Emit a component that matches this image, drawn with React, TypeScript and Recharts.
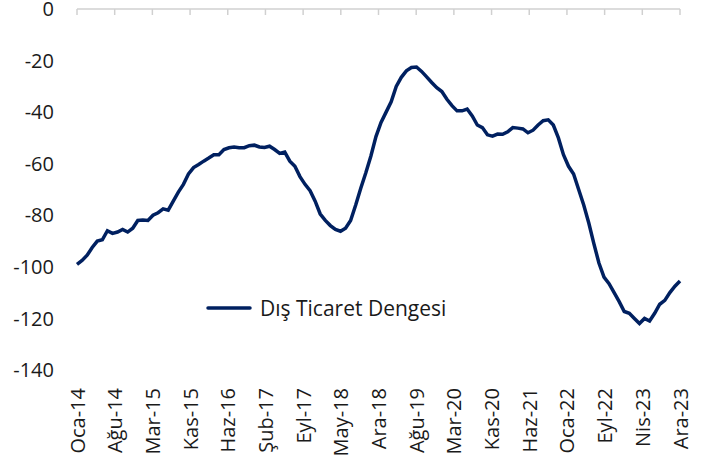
import { LineChart, Line, XAxis, YAxis, Legend } from 'recharts'

const MONTH_ABBR = ['Oca', 'Şub', 'Mar', 'Nis', 'May', 'Haz', 'Tem', 'Ağu', 'Eyl', 'Eki', 'Kas', 'Ara']

const TICK_LABELS = [
  'Oca-14', 'Ağu-14', 'Mar-15', 'Kas-15', 'Haz-16', 'Şub-17', 'Eyl-17', 'May-18', 'Ara-18',
  'Ağu-19', 'Mar-20', 'Kas-20', 'Haz-21', 'Oca-22', 'Eyl-22', 'Nis-23', 'Ara-23',
]

const Y_TICKS = [0, -20, -40, -60, -80, -100, -120, -140]

// Oca-14 .. Ara-23, monthly
const BALANCE = [
  -99, -97.5, -95.5, -92.5, -90, -89.5, -86, -87, -86.5, -85.5, -86.5, -85,
  -82, -81.8, -82, -80, -79, -77.5, -78, -74.5, -71, -68, -64, -61.5,
  -60.3, -59, -57.8, -56.5, -56.5, -54.5, -53.8, -53.5, -53.8, -53.8, -53, -52.8,
  -53.5, -53.7, -53.2, -54.5, -56, -55.5, -59, -61, -65, -68, -70.5, -74.5,
  -79.5, -82, -84, -85.5, -86.2, -85, -82, -76, -69.5, -63.5, -57, -49.5,
  -44, -40, -36, -30, -26.5, -24, -22.7, -22.5, -24.2, -26.3, -28.5, -30.5,
  -32, -35, -37.5, -39.5, -39.5, -38.8, -41.5, -45, -46, -48.8, -49.3, -48.5,
  -48.6, -47.6, -46, -46.2, -46.5, -48, -47, -45, -43.3, -43, -45, -50,
  -56.5, -61, -64, -70, -76, -83, -91, -98.5, -104, -106.5, -110, -113.5,
  -117.3, -118, -120, -122, -120, -121, -118, -114.5, -113, -110, -107.5, -105.5,
]

const data = BALANCE.map((v, i) => ({
  idx: i,
  month: `${MONTH_ABBR[i % 12]}-${14 + Math.floor(i / 12)}`,
  value: v,
}))

const LAST = BALANCE.length - 1
const xTicks = TICK_LABELS.map((_, k) => (k * LAST) / (TICK_LABELS.length - 1))

const FONT = '"Open Sans", "Noto Sans", sans-serif'
const NAVY = '#002060'
const TEXT = '#1a1a1a'

const BottomTick = (props: any) => {
  const { x, y, payload } = props
  return (
    <text
      x={x}
      y={y}
      transform={`rotate(-90, ${x}, ${y})`}
      textAnchor="end"
      dominantBaseline="central"
      fontSize={20}
      fontFamily={FONT}
      fill={TEXT}
    >
      {TICK_LABELS[payload.index]}
    </text>
  )
}

const LegendBox = () => (
  <div style={{ display: 'flex', alignItems: 'center', fontFamily: FONT, fontSize: 21, color: TEXT, whiteSpace: 'nowrap' }}>
    <svg width={50} height={10}>
      <line x1={2} y1={5} x2={44} y2={5} stroke={NAVY} strokeWidth={3.5} strokeLinecap="round" />
    </svg>
    <span style={{ marginLeft: 4 }}>Dış Ticaret Dengesi</span>
  </div>
)

export default function App() {
  return (
    <div style={{ position: 'absolute', left: 0, top: 0, width: 712, height: 463, background: '#fff' }}>
      <LineChart width={712} height={463} data={data} margin={{ top: 9, right: 32, left: 0, bottom: 0 }}>
        <XAxis
          xAxisId="top"
          orientation="top"
          dataKey="idx"
          type="number"
          domain={[0, LAST]}
          allowDataOverflow
          ticks={xTicks}
          height={1}
          mirror
          axisLine={{ stroke: '#d0d0d0', strokeWidth: 1.5 }}
          tickLine={{ stroke: '#d0d0d0', strokeWidth: 1.5 }}
          tickSize={6}
          tick={() => <g />}
          interval={0}
        />
        <XAxis
          xAxisId="bottom"
          dataKey="idx"
          type="number"
          domain={[0, LAST]}
          ticks={xTicks}
          height={93}
          axisLine={false}
          tickLine={false}
          tickSize={0}
          tickMargin={18}
          tick={<BottomTick />}
          interval={0}
        />
        <YAxis
          domain={[-140, 0]}
          ticks={Y_TICKS}
          width={77}
          axisLine={false}
          tickLine={false}
          tickSize={0}
          tickMargin={23}
          tick={{ fontSize: 20, fontFamily: FONT, fill: TEXT }}
          interval={0}
        />
        <Legend
          content={<LegendBox />}
          layout="horizontal"
          verticalAlign="middle"
          wrapperStyle={{ position: 'absolute', left: 206, top: 294, width: 'auto' }}
        />
        <Line
          xAxisId="bottom"
          type="linear"
          dataKey="value"
          stroke={NAVY}
          strokeWidth={3.5}
          dot={false}
          isAnimationActive={false}
        />
      </LineChart>
    </div>
  )
}
